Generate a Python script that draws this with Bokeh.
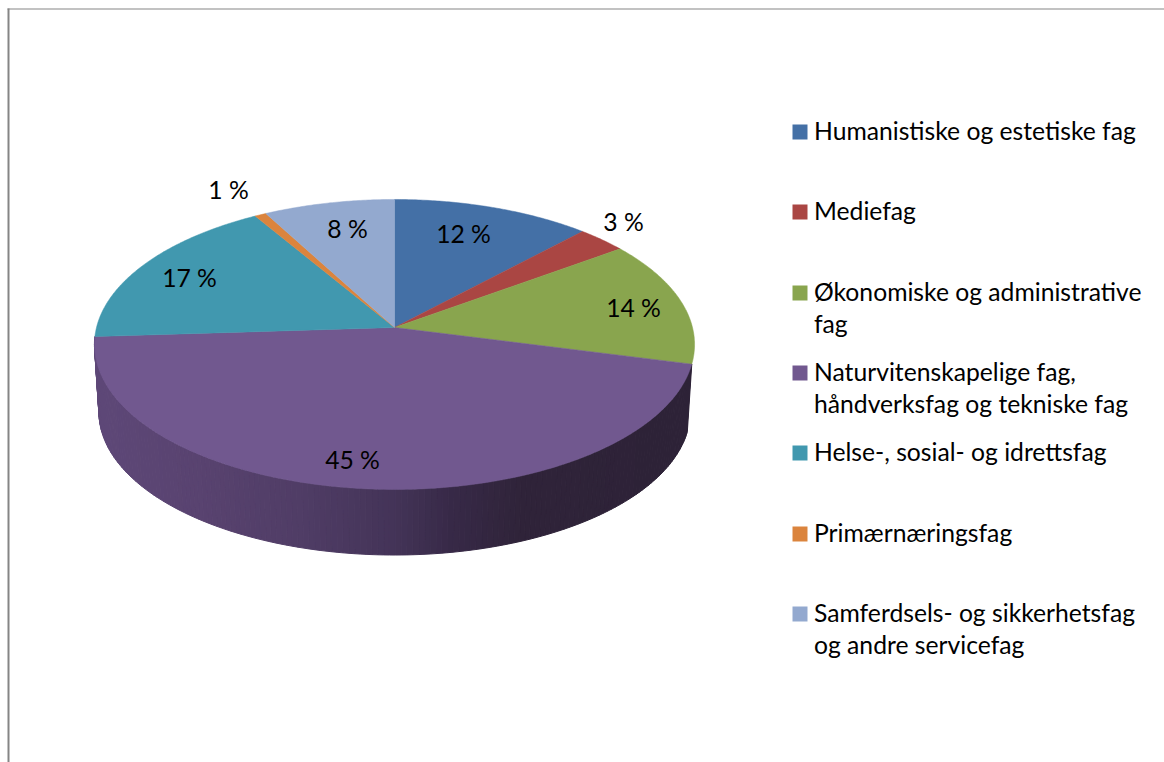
import numpy as np
from bokeh.embed import file_html
from bokeh.resources import INLINE
from bokeh.plotting import figure
from bokeh.models import Range1d
from bokeh.core.properties import value

# ---- data ----
categories = ["Humanistiske og estetiske fag", "Mediefag", "Økonomiske og administrative fag",
              "Naturvitenskapelige fag, håndverksfag og tekniske fag", "Helse-, sosial- og idrettsfag",
              "Primærnæringsfag", "Samferdsels- og sikkerhetsfag og andre servicefag"]
shares = [12, 3, 14, 45, 17.4, 0.7, 7.9]
share_labels = ["12 %", "3 %", "14 %", "45 %", "17 %", "1 %", "8 %"]
legend_lines = [["Humanistiske og estetiske fag"], ["Mediefag"], ["Økonomiske og administrative", "fag"],
                ["Naturvitenskapelige fag,", "håndverksfag og tekniske fag"], ["Helse-, sosial- og idrettsfag"],
                ["Primærnæringsfag"], ["Samferdsels- og sikkerhetsfag", "og andre servicefag"]]
colors = ["#4470A6", "#AA4643", "#89A54E", "#71588F", "#4198AF", "#DB843D", "#93A9CF"]

# ---- layout (page pixels) ----
CX, CY, R, AY, K, DEPTH, SHRINK = 394.0, 327.0, 298.0, 143.0, 0.117, 68.0, 0.985
FONT = value("Lato")
FS = "24.7px"
label_xy = [(463, 232.5), (623, 220.5), (633, 306.5), (352, 458.5), (189, 276.5), (228, 188.5), (347, 227.5)]
legend_y = [132, 212, 293, 373, 453, 534, 614]
LINE_STEP = 32
side_x = [95, 200, 300, 394, 450, 520, 695]
side_rgb = [(0x5E, 0x48, 0x78), (0x59, 0x43, 0x70), (0x50, 0x3D, 0x66), (0x44, 0x34, 0x58),
            (0x38, 0x2A, 0x48), (0x30, 0x24, 0x3A), (0x2D, 0x22, 0x37)]


def rim(deg, shrink=1.0, dy=0.0):
    t = np.radians(deg)
    u, v = np.sin(t), -np.cos(t)
    s = 1.0 / (1.0 - K * v)
    return CX + shrink * R * u * s, CY + shrink * AY * v * s + dy


p = figure(width=1164, height=762, output_backend="svg", toolbar_location=None,
           x_range=Range1d(0, 1164), y_range=Range1d(762, 0), min_border=0,
           outline_line_color=None, background_fill_color="white", border_fill_color="white")
p.axis.visible = False
p.grid.visible = False

# frame
p.line([8, 8], [8, 762], line_color="#858585", line_width=2)
p.line([7, 1164], [8.5, 8.5], line_color="#858585", line_width=1)

bounds = np.concatenate([[0], np.cumsum(shares)]) * 3.6

# side wall of the large slice, shaded left to right
a0, a1 = bounds[3], bounds[4]
angles = np.linspace(a0, a1, 162)
xs_q, ys_q, cols = [], [], []
for a, b in zip(angles[:-1], angles[1:]):
    x1, y1 = rim(a)
    x2, y2 = rim(b)
    x3, y3 = rim(b, SHRINK, DEPTH)
    x4, y4 = rim(a, SHRINK, DEPTH)
    xs_q.append([x1, x2, x3, x4])
    ys_q.append([y1, y2, y3, y4])
    m = (x1 + x2) / 2
    r, g, bl = (int(np.interp(m, side_x, [c[i] for c in side_rgb])) for i in range(3))
    cols.append(f"#{r:02x}{g:02x}{bl:02x}")
p.patches(xs_q, ys_q, fill_color=cols, line_color=cols, line_width=1)

# top faces
for i, c in enumerate(colors):
    aa = np.linspace(bounds[i], bounds[i + 1], max(int(bounds[i + 1] - bounds[i]) * 2, 4))
    ex, ey = rim(aa)
    p.patch(np.r_[CX, ex], np.r_[CY, ey], fill_color=c, line_color=c, line_width=0.5)

# data labels
p.text([q[0] for q in label_xy], [q[1] for q in label_xy], text=share_labels, text_font=FONT,
       text_font_size=FS, text_color="black", text_align="center", text_baseline="middle")

# legend
for line_set, y0, c in zip(legend_lines, legend_y, colors):
    p.rect([799.5], [y0 - 0.5], width=15, height=15, fill_color=c, line_color=None)
    for j, txt in enumerate(line_set):
        p.text([813.5], [y0 - 2 + j * LINE_STEP], text=[txt], text_font=FONT, text_font_size=FS,
               text_color="black", text_align="left", text_baseline="middle")

open("out.html", "w").write(file_html(p, INLINE))
